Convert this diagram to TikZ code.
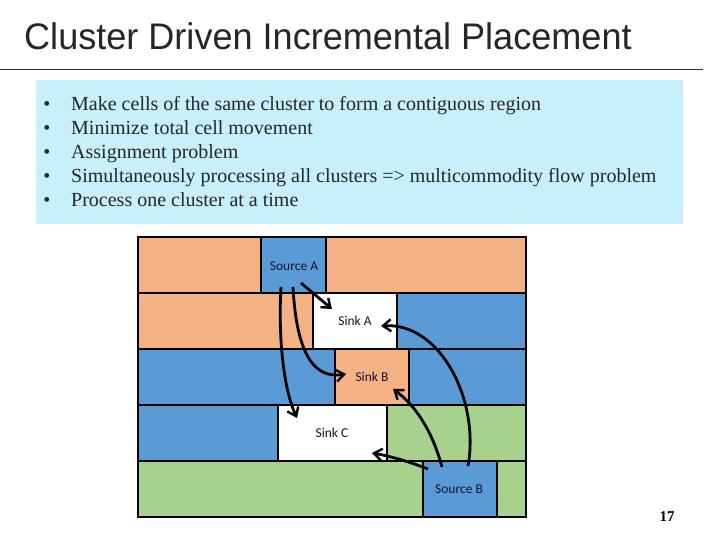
\documentclass[tikz,border=0pt]{standalone}
\usepackage{fontspec}
\setmainfont{Liberation Serif}
\newfontfamily\titlefont{Liberation Sans}
\newfontfamily\cellfont{Carlito}
\usetikzlibrary{arrows.meta}
\definecolor{cyanbg}{HTML}{C7F0FA}
\definecolor{corange}{HTML}{F4B183}
\definecolor{cblue}{HTML}{5B9BD5}
\definecolor{cgreen}{HTML}{A9D18E}
\definecolor{txtdark}{HTML}{14142A}
\tikzset{
  cellbox/.style={draw=black, line width=1.3pt},
  celllabel/.style={font=\cellfont\fontsize{13.5}{16}\selectfont, text=txtdark},
  bullettext/.style={anchor=base west, inner sep=0pt, font=\fontsize{20}{24}\selectfont, text=black!85},
  bulletdot/.style={anchor=base, inner sep=0pt, font=\fontsize{20}{24}\selectfont, text=black!85},
  flow/.style={line width=2.8pt, -{Straight Barb[length=8pt,width=12pt,line width=2.4pt]}},
}
\begin{document}
\begin{tikzpicture}[x=1pt,y=-1pt]
\useasboundingbox (0,0) rectangle (720,540);
\fill[white] (0,0) rectangle (720,540);
% title
\node[anchor=base west, inner sep=0pt, xscale=0.975, font=\titlefont\fontsize{37}{42}\selectfont, text=black!85] (title) at (24,50) {Cluster Driven Incremental Placement};
\draw[line width=0.8pt, black!80] (0,69) -- (703,69);
% cyan box
\fill[cyanbg] (36,80) rectangle (683,224);
\foreach \t [count=\i] in {Make cells of the same cluster to form a contiguous region,
  Minimize total cell movement,
  Assignment problem,
  Simultaneously processing all clusters => multicommodity flow problem,
  Process one cluster at a time}{
  \node[bulletdot] (b\i) at (47,{87+24*\i}) {\textbullet};
  \node[bullettext] (t\i) at (71,{87+24*\i}) {\t};
}
% grid row 1
\filldraw[cellbox, fill=corange] (138,237) rectangle (261,293);
\filldraw[cellbox, fill=cblue] (261,237) rectangle (326,293);
\filldraw[cellbox, fill=corange] (326,237) rectangle (526,293);
% row 2
\filldraw[cellbox, fill=corange] (138,293) rectangle (313,349);
\filldraw[cellbox, fill=white] (313,293) rectangle (397,349);
\filldraw[cellbox, fill=cblue] (397,293) rectangle (526,349);
% row 3
\filldraw[cellbox, fill=cblue] (138,349) rectangle (335,405);
\filldraw[cellbox, fill=corange] (335,349) rectangle (409,405);
\filldraw[cellbox, fill=cblue] (409,349) rectangle (526,405);
% row 4
\filldraw[cellbox, fill=cblue] (138,405) rectangle (278,461);
\filldraw[cellbox, fill=white] (278,405) rectangle (387,461);
\filldraw[cellbox, fill=cgreen] (387,405) rectangle (526,461);
% row 5
\filldraw[cellbox, fill=cgreen] (138,461) rectangle (423,517);
\filldraw[cellbox, fill=cblue] (423,461) rectangle (497,517);
\filldraw[cellbox, fill=cgreen] (497,461) rectangle (526,517);
% labels
\node[celllabel] (srcA) at (294,266) {Source A};
\node[celllabel] (sinkA) at (355,321) {Sink A};
\node[celllabel] (sinkB) at (372,377) {Sink B};
\node[celllabel] (sinkC) at (332,433) {Sink C};
\node[celllabel] (srcB) at (459,489) {Source B};
% arrow anchor coordinates
\coordinate (a1s) at (301,283);
\coordinate (a1e) at (332,309);
\coordinate (a2s) at (293,287);
\coordinate (a2e) at (346,374);
\coordinate (a3s) at (281,287);
\coordinate (a3e) at (297,418);
\coordinate (b1s) at (428,469);
\coordinate (b1e) at (372,453);
\coordinate (b2s) at (442,467);
\coordinate (b2e) at (393,389);
\coordinate (b3s) at (468,466);
\coordinate (b3e) at (381,326);
% arrows
\draw[flow] (a1s) -- (a1e);
\draw[flow] (a2s) .. controls (296,345) and (310,380) .. (a2e);
\draw[flow] (a3s) .. controls (278,340) and (284,390) .. (a3e);
\draw[flow] (b1s) .. controls (410,462) and (390,456) .. (b1e);
\draw[flow] (b2s) .. controls (432,430) and (415,405) .. (b2e);
\draw[flow] (b3s) .. controls (480,400) and (440,322) .. (b3e);
% page number
\node[anchor=base, inner sep=0pt, font=\bfseries\fontsize{15}{18}\selectfont] (pg) at (667,521) {17};
\end{tikzpicture}
\end{document}
